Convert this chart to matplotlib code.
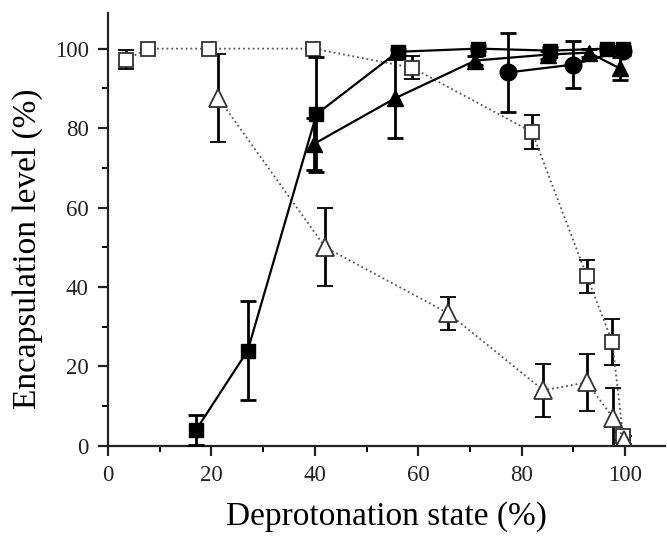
import matplotlib.pyplot as plt
from matplotlib.ticker import MultipleLocator

plt.rcParams["font.family"] = ["Liberation Serif", "DejaVu Serif"]

# filled squares
sq_x = [17, 27, 40.3, 56, 71.5, 85.5, 96.5, 99.5]
sq_y = [4, 24, 83.5, 99.2, 100, 99.5, 100, 100]
sq_e = [3.7, 12.5, 14.5, 0.8, 0.6, 0.8, 0.6, 0.6]

# filled triangles
tri_x = [39.8, 55.5, 71, 85, 93, 99]
tri_y = [76, 87.5, 97, 98.5, 99, 95]
tri_e = [6.5, 10, 1.2, 1.0, 1.0, 3]

# filled circles
ci_x = [77.4, 90, 99.5]
ci_y = [94, 96, 99.5]
ci_e = [10, 5.8, 1.0]

# open squares
osq_x = [3.5, 7.7, 19.6, 39.7, 58.8, 82, 92.6, 97.5, 99.6]
osq_y = [97.2, 100, 100, 100, 95.2, 79, 42.7, 26.2, 2.5]
osq_e = [2.4, 0, 0, 0, 2.9, 4.3, 4.2, 5.8, 1.0]

# open triangles
otri_x = [21.3, 42, 65.8, 84.2, 92.6, 97.7, 99.8]
otri_y = [87.6, 50, 33.4, 14, 16, 7, 1.5]
otri_e = [11, 9.8, 4.2, 6.7, 7.2, 7.6, 1.0]

fig = plt.figure(figsize=(6.67, 5.36), dpi=100)
ax = fig.add_axes([0.162, 0.168, 0.835, 0.808])

eb = dict(ecolor="black", elinewidth=2, capsize=6, capthick=2)

ax.errorbar(osq_x, osq_y, yerr=osq_e, fmt="s", ls=":", color="#555555", lw=1.3,
            mfc="white", mec="#333333", mew=1.3, ms=10, zorder=2, **eb)
ax.errorbar(otri_x, otri_y, yerr=otri_e, fmt="^", ls=":", color="#555555", lw=1.3,
            mfc="white", mec="#333333", mew=1.3, ms=13, zorder=2, **eb)
ax.errorbar(sq_x, sq_y, yerr=sq_e, fmt="s", ls="-", color="black", lw=1.6,
            ms=10, zorder=3, **eb)
ax.errorbar(tri_x, tri_y, yerr=tri_e, fmt="^", ls="-", color="black", lw=1.6,
            ms=12, zorder=3, **eb)
ax.errorbar(ci_x, ci_y, yerr=ci_e, fmt="o", ls="-", color="black", lw=1.6,
            ms=12, zorder=3, **eb)

ax.set_xlim(0, 107.7)
ax.set_ylim(0, 109)
ax.xaxis.set_major_locator(MultipleLocator(20))
ax.xaxis.set_minor_locator(MultipleLocator(10))
ax.yaxis.set_major_locator(MultipleLocator(20))
ax.yaxis.set_minor_locator(MultipleLocator(10))
ax.set_xticks([0, 20, 40, 60, 80, 100])

for side in ["top", "right"]:
    ax.spines[side].set_visible(False)
for side in ["left", "bottom"]:
    ax.spines[side].set_linewidth(1.6)
    ax.spines[side].set_color("#222222")

ax.tick_params(which="major", direction="out", length=7, width=1.6,
               labelsize=16.5, colors="#222222", pad=7)
ax.tick_params(which="minor", direction="out", length=4, width=1.4)

ax.set_xlabel("Deprotonation state (%)", fontsize=24, labelpad=11)
ax.set_ylabel("Encapsulation level (%)", fontsize=24)
ax.yaxis.set_label_coords(-0.117, 0.455)

fig.savefig("out.png", dpi=100)
